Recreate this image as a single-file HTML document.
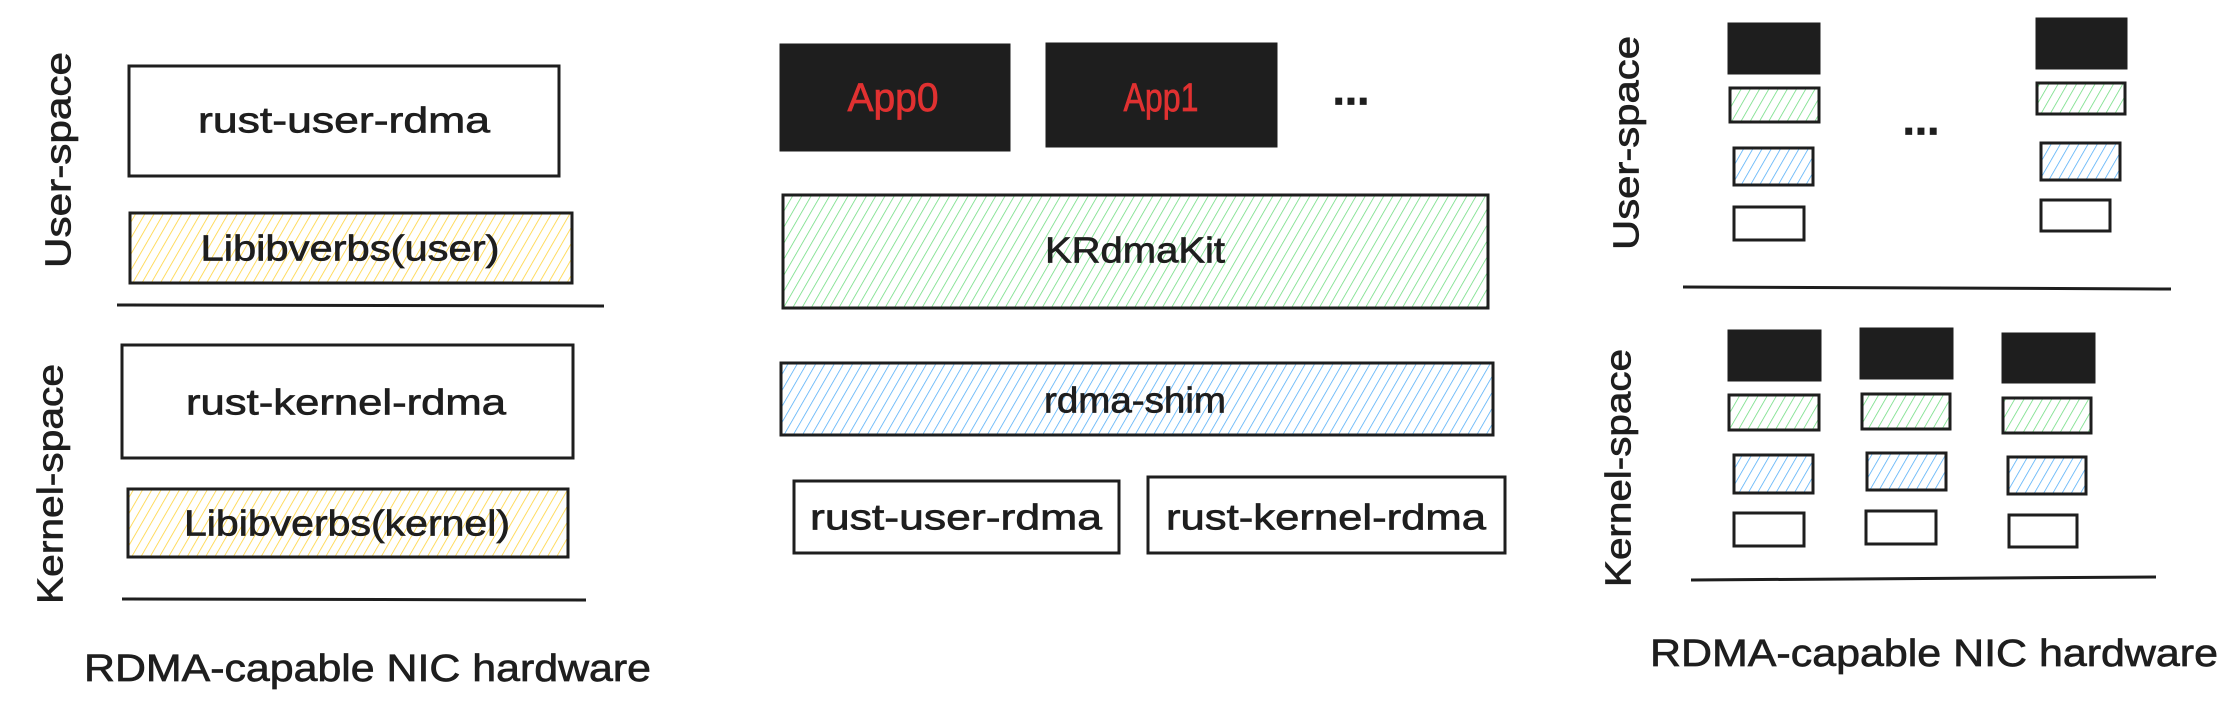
<!DOCTYPE html>
<html><head><meta charset="utf-8"><style>
html,body{margin:0;padding:0;background:#fff;}
svg{display:block;}
text{font-family:"Liberation Sans",sans-serif;fill:#1e1e1e;stroke:#1e1e1e;stroke-width:0.7px;}
</style></head><body>
<svg width="2236" height="716" viewBox="0 0 2236 716" xmlns="http://www.w3.org/2000/svg">
<defs>
<pattern id="hy" width="8" height="8" patternUnits="userSpaceOnUse" patternTransform="rotate(30)"><line x1="0" y1="0" x2="0" y2="8" stroke="#ffd43b" stroke-width="1.6"/></pattern>
<pattern id="hg" width="8" height="8" patternUnits="userSpaceOnUse" patternTransform="rotate(30)"><line x1="0" y1="0" x2="0" y2="8" stroke="#69db7c" stroke-width="1.5"/></pattern>
<pattern id="hb" width="8" height="8" patternUnits="userSpaceOnUse" patternTransform="rotate(30)"><line x1="0" y1="0" x2="0" y2="8" stroke="#4dabf7" stroke-width="1.5"/></pattern>
</defs>
<g fill="none" stroke="#1e1e1e" stroke-width="3">
<rect x="129" y="66" width="430" height="110"/>
<rect x="130" y="213" width="442" height="70" fill="url(#hy)"/>
<line x1="117" y1="305" x2="604" y2="306"/>
<rect x="122" y="345" width="451" height="113"/>
<rect x="128" y="489" width="440" height="68" fill="url(#hy)"/>
<line x1="122" y1="599" x2="586" y2="600"/>
<rect x="781" y="45" width="228" height="105" fill="#1e1e1e"/>
<rect x="1047" y="44" width="229" height="102" fill="#1e1e1e"/>
<rect x="783" y="195" width="705" height="113" fill="url(#hg)"/>
<rect x="781" y="363" width="712" height="72" fill="url(#hb)"/>
<rect x="794" y="481" width="325" height="72"/>
<rect x="1148" y="477" width="357" height="76"/>
<rect x="1729" y="24" width="90" height="49" fill="#1e1e1e"/>
<rect x="1730" y="88" width="89" height="34" fill="url(#hg)"/>
<rect x="1734" y="148" width="79" height="37" fill="url(#hb)"/>
<rect x="1734" y="207" width="70" height="33"/>
<rect x="2037" y="19" width="89" height="49" fill="#1e1e1e"/>
<rect x="2037" y="83" width="88" height="31" fill="url(#hg)"/>
<rect x="2041" y="143" width="79" height="37" fill="url(#hb)"/>
<rect x="2041" y="200" width="69" height="31"/>
<line x1="1683" y1="287" x2="2171" y2="289"/>
<rect x="1729" y="331" width="91" height="49" fill="#1e1e1e"/>
<rect x="1729" y="395" width="90" height="35" fill="url(#hg)"/>
<rect x="1734" y="455" width="79" height="38" fill="url(#hb)"/>
<rect x="1734" y="513" width="70" height="33"/>
<rect x="1861" y="329" width="91" height="49" fill="#1e1e1e"/>
<rect x="1862" y="394" width="88" height="35" fill="url(#hg)"/>
<rect x="1867" y="453" width="79" height="37" fill="url(#hb)"/>
<rect x="1866" y="511" width="70" height="33"/>
<rect x="2003" y="334" width="91" height="48" fill="#1e1e1e"/>
<rect x="2003" y="398" width="88" height="35" fill="url(#hg)"/>
<rect x="2008" y="457" width="78" height="37" fill="url(#hb)"/>
<rect x="2009" y="515" width="68" height="32"/>
<line x1="1691" y1="580" x2="2156" y2="577"/>
</g>
<g font-size="36" text-anchor="middle" dominant-baseline="central">
<text x="344" y="120" textLength="292" lengthAdjust="spacingAndGlyphs">rust-user-rdma</text>
<text x="350" y="248" textLength="299" lengthAdjust="spacingAndGlyphs">Libibverbs(user)</text>
<text x="346" y="402" textLength="320" lengthAdjust="spacingAndGlyphs">rust-kernel-rdma</text>
<text x="347" y="523" textLength="326" lengthAdjust="spacingAndGlyphs">Libibverbs(kernel)</text>
<text x="893" y="98" font-size="40" textLength="91" lengthAdjust="spacingAndGlyphs" style="fill:#e03131;stroke:#e03131">App0</text>
<text x="1161" y="98" font-size="40" textLength="75" lengthAdjust="spacingAndGlyphs" style="fill:#e03131;stroke:#e03131">App1</text>
<text x="1351" y="90" font-size="44" font-weight="bold">...</text>
<text x="1135" y="250" textLength="180" lengthAdjust="spacingAndGlyphs">KRdmaKit</text>
<text x="1135" y="400" textLength="182" lengthAdjust="spacingAndGlyphs">rdma-shim</text>
<text x="956" y="517" textLength="292" lengthAdjust="spacingAndGlyphs">rust-user-rdma</text>
<text x="1326" y="517" textLength="320" lengthAdjust="spacingAndGlyphs">rust-kernel-rdma</text>
<text x="1921" y="120" font-size="44" font-weight="bold">...</text>
<text transform="translate(58,160) rotate(-90)" textLength="216" lengthAdjust="spacingAndGlyphs">User-space</text>
<text transform="translate(50,484) rotate(-90)" textLength="240" lengthAdjust="spacingAndGlyphs">Kernel-space</text>
<text transform="translate(1626,143) rotate(-90)" textLength="214" lengthAdjust="spacingAndGlyphs">User-space</text>
<text transform="translate(1618,468) rotate(-90)" textLength="238" lengthAdjust="spacingAndGlyphs">Kernel-space</text>
</g>
<text x="84" y="681" font-size="38" textLength="567" lengthAdjust="spacingAndGlyphs">RDMA-capable NIC hardware</text>
<text x="1650" y="666" font-size="38" textLength="568" lengthAdjust="spacingAndGlyphs">RDMA-capable NIC hardware</text>
</svg>
</body></html>
